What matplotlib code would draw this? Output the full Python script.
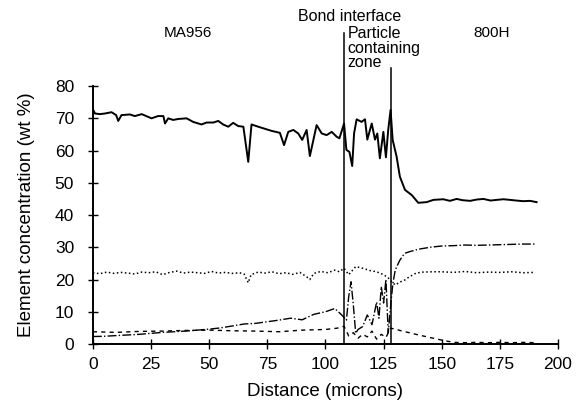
import matplotlib
matplotlib.use("Agg")
import matplotlib.pyplot as plt

plt.rcParams['font.family'] = ['Liberation Sans', 'DejaVu Sans']

# Fe (solid line)
fe_x = [0, 0.9, 3, 5.2, 8, 10, 10.9, 12.3, 15.9, 18, 21, 25.2, 28, 30.3, 31, 32.4,
        34.5, 36.7, 40.3, 43.1, 46.7, 48.9, 51.8, 53.9, 56, 58.2, 60.3, 62.5, 64.7,
        66.8, 68.2, 71.1, 73.3, 76.9, 80.4, 82.2, 84, 86.2, 88.3, 90, 91.9, 93.3,
        96.2, 98.4, 100.5, 102.7, 104.8, 106, 108, 109, 110.3, 111.5, 112.3, 113.4,
        115.5, 117, 118, 119.9, 121.3, 122.3, 123.4, 124.9, 126, 127, 128, 128.9,
        130.6, 132, 134.2, 137.1, 139.9, 143.5, 146.4, 150.7, 153.5, 156.4, 159,
        162.2, 165, 167.9, 171, 173.6, 176.5, 179.4, 182, 185.1, 188, 190.8]
fe_y = [72.8, 71.5, 71.3, 71.5, 71.9, 71.0, 69.2, 71.0, 71.2, 70.7, 71.3, 70.0,
        70.7, 70.7, 68.4, 70.0, 69.5, 69.8, 70.0, 68.9, 68.1, 68.7, 68.7, 69.2,
        68.1, 67.4, 68.6, 67.6, 67.4, 56.5, 68.1, 67.4, 66.9, 66.1, 65.5, 61.7,
        65.8, 66.4, 65.3, 63.3, 66.4, 58.3, 67.9, 65.3, 64.8, 65.8, 64.3, 63.8,
        68.4, 60.2, 59.6, 55.2, 65.3, 69.7, 68.9, 69.7, 63.4, 68.4, 63.4, 65.3,
        57.6, 65.8, 57.9, 66.5, 72.6, 63.3, 58.1, 51.9, 47.8, 46.2, 43.8, 44.0,
        44.7, 44.9, 44.4, 45.0, 44.6, 44.4, 44.8, 45.0, 44.5, 44.7, 44.9, 44.7,
        44.5, 44.3, 44.4, 44.0]

# Cr (dotted line)
cr_x = [0, 3, 6, 9, 12, 15, 18, 21, 24, 27, 30, 33, 36, 39, 42, 45, 48, 51, 54,
        57, 60, 63, 65, 66.8, 68, 71, 74, 77, 80, 83, 86, 89, 92, 93.3, 95, 98,
        101, 104, 106, 108, 110, 113, 116, 119, 122, 125, 127, 128.5, 130, 132,
        134, 136, 139, 142, 146, 150, 155, 160, 165, 170, 175, 180, 185, 190]
cr_y = [22.1, 21.8, 22.3, 21.9, 22.2, 22.0, 21.7, 22.3, 22.1, 22.4, 21.5, 22.2,
        22.6, 22.0, 22.3, 22.1, 21.9, 22.5, 22.0, 22.2, 21.9, 22.1, 21.7, 19.0,
        21.5, 22.3, 22.0, 22.4, 21.8, 22.1, 21.6, 22.2, 20.8, 20.0, 21.9, 22.5,
        22.1, 22.9, 22.4, 23.5, 21.5, 24.0, 23.5, 22.8, 22.4, 21.5, 20.5, 19.3,
        18.3, 19.2, 19.8, 20.8, 22.0, 22.3, 22.4, 22.4, 22.2, 22.5, 22.1, 22.3,
        22.2, 22.4, 22.1, 22.2]

# Ni (dash-dot line)
ni_x = [0, 5, 10, 15, 20, 25, 30, 35, 40, 45, 50, 55, 60, 65, 70, 75, 80, 85, 90,
        95, 100, 104, 107, 109, 110, 111, 112, 113, 114, 116, 118, 120, 122, 123,
        124, 125, 126, 127, 128, 129, 130, 131, 132, 134, 136, 140, 145, 150, 155,
        160, 165, 170, 175, 180, 185, 190]
ni_y = [2.3, 2.4, 2.6, 2.8, 3.0, 3.3, 3.6, 3.8, 4.0, 4.3, 4.6, 5.0, 5.6, 6.2, 6.4,
        6.9, 7.4, 8.0, 7.5, 9.2, 10.0, 11.0, 9.0, 7.4, 14.7, 19.3, 12.0, 3.3, 4.5,
        5.4, 9.0, 6.0, 13.0, 8.0, 17.8, 12.7, 20.0, 3.4, 11.7, 18.8, 22.9, 24.5,
        26.0, 28.1, 28.6, 29.4, 30.0, 30.4, 30.5, 30.7, 30.6, 30.7, 30.8, 30.9,
        31.0, 31.0]

# Al (dashed line)
al_x = [0, 10, 20, 30, 40, 50, 60, 70, 80, 90, 100, 105, 108, 110, 112, 114, 116,
        118, 120, 122, 124, 126, 128, 130, 133, 136, 140, 145, 150, 155, 160, 165,
        170, 175, 180, 185, 190]
al_y = [3.8, 3.6, 3.9, 4.0, 4.2, 4.3, 4.1, 4.0, 3.8, 4.3, 4.5, 4.9, 5.5, 2.5, 3.5,
        1.8, 3.0, 2.2, 4.0, 1.5, 3.0, 2.0, 4.9, 4.6, 4.0, 3.5, 2.8, 2.0, 1.2, 0.5,
        0.4, 0.5, 0.4, 0.5, 0.4, 0.5, 0.4]

# zone boundaries and how far their lines rise above the plot
bound_x = [108, 128]
bound_top = [96.5, 85.5]

fig = plt.figure(figsize=(5.88, 4.2), dpi=100)
ax = fig.add_axes([0.158, 0.181, 0.791, 0.614])

ax.plot(fe_x, fe_y, '-', color='black', lw=1.4)
ax.plot(cr_x, cr_y, ':', color='black', lw=1.1)
ax.plot(ni_x, ni_y, '-.', color='black', lw=1.0)
ax.plot(al_x, al_y, '--', color='black', lw=1.0, dashes=(3, 3))

for bx, bt in zip(bound_x, bound_top):
    ax.plot([bx, bx], [0, bt], '-', color='black', lw=1.1, clip_on=False)

ax.text(40.9, 96.4, "MA956", ha='center', va='center', fontsize=11)
ax.text(110.5, 101.6, "Bond interface", ha='center', va='center', fontsize=11.5)
ax.text(109.4, 98.6, "Particle\ncontaining\nzone", ha='left', va='top',
        fontsize=11.5, linespacing=0.95)
ax.text(171.6, 96.4, "800H", ha='center', va='center', fontsize=11)

ax.set_xlim(0, 200)
ax.set_ylim(0, 80)
ax.set_xticks(range(0, 201, 25))
ax.set_yticks(range(0, 81, 10))
ax.spines['top'].set_visible(False)
ax.spines['right'].set_visible(False)
ax.spines['left'].set_linewidth(1.4)
ax.spines['bottom'].set_linewidth(1.4)
ax.tick_params(axis='both', direction='inout', length=7, width=1.0, labelsize=12.5)
ax.tick_params(axis='y', pad=10)
ax.tick_params(axis='x', pad=6)
ax.set_xlabel("Distance (microns)", fontsize=13.5, labelpad=8)
ax.set_ylabel("Element concentration (wt %)", fontsize=13.5, labelpad=14)

fig.savefig("out.png", dpi=100, facecolor='white')
